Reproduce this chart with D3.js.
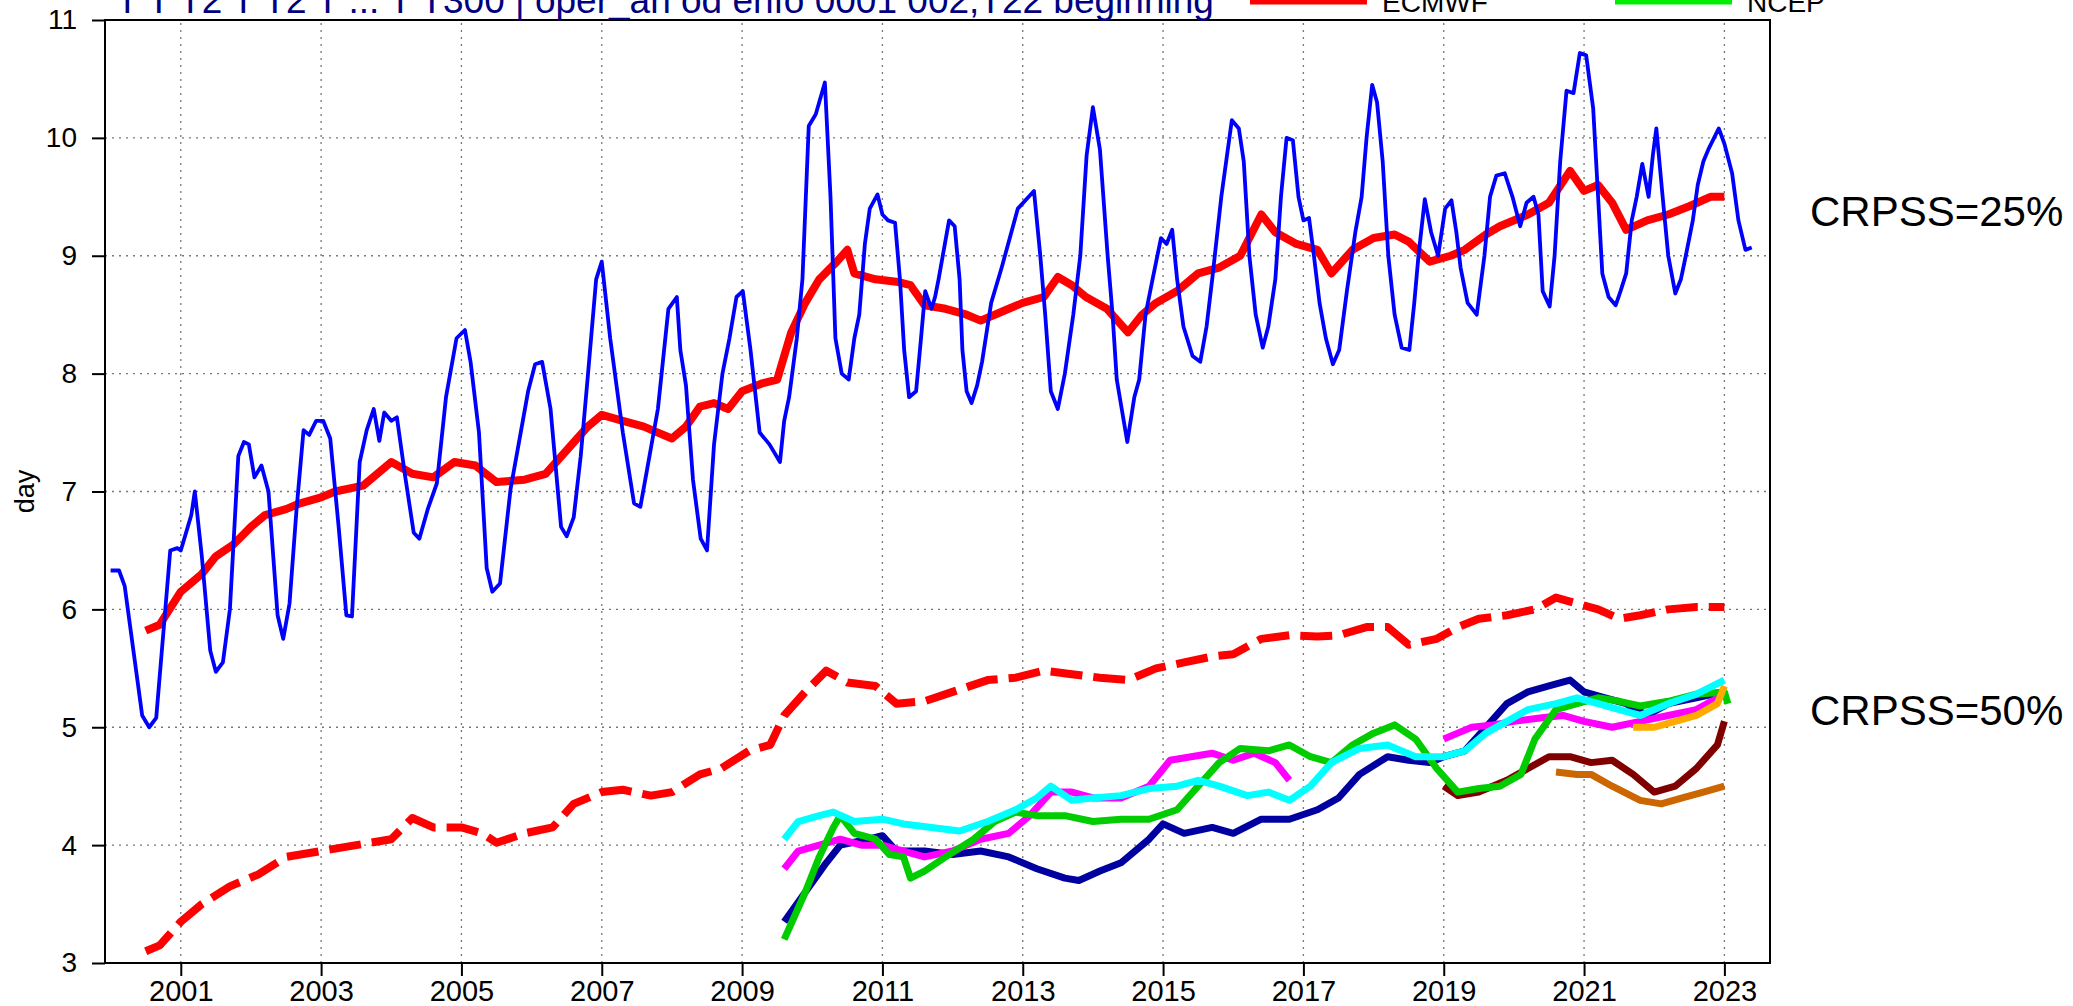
<!DOCTYPE html>
<html>
<head>
<meta charset="utf-8">
<script src="https://cdn.jsdelivr.net/npm/d3@7"></script>
<style>
  body { margin: 0; background: #fff; }
  svg { display: block; font-family: "Liberation Sans", Arial, sans-serif; }
</style>
</head>
<body>
<div id="chart"></div>
<script>
// year ticks and y ticks
var yearTicks = [2001, 2003, 2005, 2007, 2009, 2011, 2013, 2015, 2017, 2019, 2021, 2023];
var dayTicks = [3, 4, 5, 6, 7, 8, 9, 10, 11];

// monthly scores (blue)
var monthly = [
  [2000.0,6.33],[2000.12,6.33],[2000.2,6.2],[2000.45,5.1],[2000.55,5.0],[2000.65,5.08],[2000.85,6.5],[2000.95,6.52],
  [2001.0,6.5],[2001.1,6.7],[2001.15,6.8],[2001.2,7.0],[2001.3,6.45],[2001.42,5.65],[2001.5,5.47],[2001.6,5.55],
  [2001.7,6.0],[2001.82,7.3],[2001.9,7.42],[2001.97,7.4],[2002.05,7.12],[2002.15,7.22],[2002.25,7.0],[2002.38,5.95],
  [2002.46,5.75],[2002.55,6.05],[2002.65,6.85],[2002.75,7.52],[2002.83,7.48],[2002.93,7.6],[2003.03,7.6],[2003.13,7.45],
  [2003.25,6.7],[2003.36,5.95],[2003.44,5.94],[2003.55,7.25],[2003.65,7.52],[2003.75,7.7],[2003.83,7.43],[2003.9,7.67],
  [2004.0,7.6],[2004.08,7.63],[2004.2,7.12],[2004.32,6.65],[2004.4,6.6],[2004.52,6.85],[2004.65,7.07],[2004.78,7.8],
  [2004.93,8.3],[2005.05,8.37],[2005.13,8.1],[2005.25,7.5],[2005.36,6.35],[2005.44,6.15],[2005.55,6.22],[2005.7,7.02],
  [2005.83,7.45],[2005.95,7.85],[2006.05,8.08],[2006.15,8.1],[2006.27,7.7],[2006.42,6.7],[2006.5,6.62],[2006.6,6.78],
  [2006.7,7.3],[2006.8,7.97],[2006.92,8.8],[2007.0,8.95],[2007.12,8.3],[2007.3,7.5],[2007.46,6.9],[2007.55,6.87],
  [2007.65,7.2],[2007.8,7.7],[2007.95,8.55],[2008.07,8.65],[2008.12,8.2],[2008.2,7.9],[2008.3,7.1],[2008.41,6.6],
  [2008.5,6.5],[2008.6,7.4],[2008.72,8.0],[2008.82,8.3],[2008.92,8.65],[2009.01,8.7],[2009.12,8.2],[2009.25,7.5],
  [2009.39,7.4],[2009.54,7.25],[2009.6,7.6],[2009.67,7.8],[2009.78,8.3],[2009.86,8.8],[2009.95,10.1],[2010.05,10.2],
  [2010.18,10.47],[2010.26,9.5],[2010.33,8.3],[2010.42,8.0],[2010.52,7.95],[2010.6,8.3],[2010.67,8.5],[2010.75,9.1],
  [2010.82,9.4],[2010.93,9.52],[2011.0,9.35],[2011.08,9.3],[2011.18,9.28],[2011.25,8.8],[2011.31,8.2],[2011.38,7.8],
  [2011.48,7.85],[2011.55,8.3],[2011.61,8.7],[2011.7,8.55],[2011.75,8.65],[2011.8,8.8],[2011.95,9.3],[2012.03,9.25],
  [2012.1,8.8],[2012.14,8.2],[2012.2,7.85],[2012.27,7.75],[2012.35,7.9],[2012.42,8.1],[2012.55,8.6],[2012.7,8.9],
  [2012.93,9.4],[2013.16,9.55],[2013.25,9.0],[2013.32,8.5],[2013.4,7.85],[2013.5,7.7],[2013.6,8.0],[2013.72,8.5],
  [2013.82,9.0],[2013.91,9.85],[2014.0,10.26],[2014.1,9.9],[2014.21,9.0],[2014.28,8.5],[2014.34,7.95],[2014.49,7.42],
  [2014.59,7.8],[2014.66,7.95],[2014.75,8.5],[2014.85,8.8],[2014.97,9.15],[2015.05,9.1],[2015.13,9.22],[2015.2,8.8],
  [2015.29,8.4],[2015.42,8.15],[2015.53,8.1],[2015.62,8.4],[2015.7,8.8],[2015.83,9.5],[2015.98,10.15],[2016.08,10.08],
  [2016.15,9.8],[2016.23,9.0],[2016.32,8.5],[2016.42,8.22],[2016.5,8.4],[2016.6,8.8],[2016.68,9.5],[2016.76,10.0],
  [2016.85,9.98],[2016.93,9.5],[2017.0,9.3],[2017.08,9.32],[2017.15,9.0],[2017.23,8.6],[2017.32,8.3],[2017.42,8.08],
  [2017.51,8.2],[2017.62,8.7],[2017.74,9.2],[2017.83,9.5],[2017.9,10.0],[2017.98,10.45],[2018.05,10.3],[2018.13,9.8],
  [2018.21,9.0],[2018.3,8.5],[2018.4,8.22],[2018.51,8.2],[2018.58,8.6],[2018.64,9.0],[2018.73,9.48],[2018.82,9.2],
  [2018.92,9.0],[2019.02,9.4],[2019.11,9.47],[2019.18,9.2],[2019.24,8.9],[2019.34,8.6],[2019.47,8.5],[2019.58,9.0],
  [2019.66,9.5],[2019.75,9.68],[2019.87,9.7],[2019.98,9.5],[2020.09,9.25],[2020.18,9.45],[2020.28,9.5],[2020.35,9.35],
  [2020.41,8.7],[2020.51,8.57],[2020.58,9.0],[2020.66,9.8],[2020.75,10.4],[2020.85,10.38],[2020.94,10.72],[2021.03,10.7],
  [2021.13,10.25],[2021.2,9.5],[2021.26,8.85],[2021.35,8.65],[2021.45,8.58],[2021.52,8.7],[2021.6,8.85],[2021.68,9.3],
  [2021.75,9.5],[2021.83,9.78],[2021.92,9.5],[2021.98,9.85],[2022.03,10.08],[2022.12,9.5],[2022.2,9.0],[2022.3,8.68],
  [2022.38,8.8],[2022.45,9.0],[2022.55,9.3],[2022.62,9.6],[2022.7,9.8],[2022.77,9.9],[2022.92,10.08],[2023.0,9.95],
  [2023.11,9.7],[2023.2,9.3],[2023.3,9.05],[2023.39,9.07]
];

// 12-month running mean, CRPSS=25% (red solid)
var ecmwf25 = [
  [2000.5,5.82],[2000.7,5.87],[2001.0,6.15],[2001.3,6.3],[2001.5,6.45],[2001.75,6.55],[2002.0,6.7],[2002.2,6.8],
  [2002.5,6.85],[2002.7,6.9],[2003.0,6.95],[2003.2,7.0],[2003.6,7.05],[2004.0,7.25],[2004.3,7.15],[2004.6,7.12],
  [2004.9,7.25],[2005.2,7.22],[2005.5,7.08],[2005.9,7.1],[2006.2,7.15],[2006.5,7.35],[2006.8,7.55],[2007.0,7.65],
  [2007.3,7.6],[2007.6,7.55],[2007.8,7.5],[2008.0,7.45],[2008.2,7.55],[2008.4,7.72],[2008.6,7.75],[2008.8,7.7],
  [2009.0,7.85],[2009.3,7.92],[2009.5,7.95],[2009.7,8.35],[2009.9,8.6],[2010.1,8.8],[2010.35,8.95],[2010.5,9.05],
  [2010.6,8.85],[2010.9,8.8],[2011.2,8.78],[2011.4,8.75],[2011.6,8.58],[2011.9,8.55],[2012.2,8.5],[2012.4,8.45],
  [2012.6,8.5],[2012.8,8.55],[2013.0,8.6],[2013.3,8.65],[2013.5,8.82],[2013.7,8.75],[2013.9,8.65],[2014.2,8.55],
  [2014.5,8.35],[2014.7,8.5],[2014.9,8.6],[2015.2,8.7],[2015.5,8.85],[2015.8,8.9],[2016.1,9.0],[2016.4,9.35],
  [2016.6,9.2],[2016.9,9.1],[2017.2,9.05],[2017.4,8.85],[2017.7,9.05],[2018.0,9.15],[2018.3,9.18],[2018.5,9.12],
  [2018.8,8.95],[2019.1,9.0],[2019.3,9.05],[2019.6,9.18],[2019.8,9.25],[2020.2,9.35],[2020.5,9.45],[2020.8,9.72],
  [2021.0,9.55],[2021.2,9.6],[2021.4,9.45],[2021.6,9.22],[2021.9,9.3],[2022.2,9.35],[2022.5,9.42],[2022.8,9.5],[2023.0,9.5]
];

// 12-month running mean, CRPSS=50% (red dashed)
var ecmwf50 = [
  [2000.5,3.1],[2000.7,3.15],[2001.0,3.35],[2001.3,3.5],[2001.7,3.65],[2002.1,3.75],[2002.5,3.9],[2003.0,3.95],
  [2003.5,4.0],[2004.0,4.05],[2004.3,4.23],[2004.6,4.15],[2005.0,4.15],[2005.3,4.1],[2005.5,4.02],[2005.9,4.1],
  [2006.3,4.15],[2006.6,4.35],[2007.0,4.45],[2007.3,4.47],[2007.7,4.42],[2008.0,4.45],[2008.4,4.6],[2008.7,4.65],
  [2009.1,4.8],[2009.4,4.85],[2009.6,5.1],[2009.9,5.3],[2010.2,5.48],[2010.5,5.38],[2010.9,5.35],[2011.2,5.2],
  [2011.6,5.22],[2012.0,5.3],[2012.5,5.4],[2012.9,5.42],[2013.3,5.48],[2013.7,5.45],[2014.1,5.42],[2014.5,5.4],
  [2014.9,5.5],[2015.3,5.55],[2015.7,5.6],[2016.0,5.62],[2016.4,5.75],[2016.8,5.78],[2017.2,5.77],[2017.5,5.78],
  [2017.9,5.85],[2018.2,5.85],[2018.5,5.7],[2018.9,5.75],[2019.2,5.85],[2019.5,5.92],[2019.9,5.95],[2020.3,6.0],
  [2020.6,6.1],[2020.9,6.05],[2021.2,6.0],[2021.5,5.92],[2021.8,5.95],[2022.2,6.0],[2022.6,6.02],[2023.0,6.02]
];

var navy50 = [
  [2009.6,3.35],[2009.9,3.6],[2010.2,3.85],[2010.4,4.0],[2010.8,4.05],[2011.0,4.08],[2011.2,3.95],[2011.6,3.95],
  [2012.0,3.92],[2012.4,3.95],[2012.8,3.9],[2013.2,3.8],[2013.6,3.72],[2013.8,3.7],[2014.1,3.78],[2014.4,3.85],
  [2014.8,4.05],[2015.0,4.18],[2015.3,4.1],[2015.7,4.15],[2016.0,4.1],[2016.4,4.22],[2016.8,4.22],[2017.2,4.3],
  [2017.5,4.4],[2017.8,4.6],[2018.2,4.75],[2018.5,4.72],[2018.8,4.7],[2019.0,4.75],[2019.3,4.8],[2019.6,5.0],
  [2019.9,5.2],[2020.2,5.3],[2020.5,5.35],[2020.8,5.4],[2021.0,5.3],[2021.3,5.25],[2021.6,5.2],[2021.9,5.1],
  [2022.2,5.2],[2022.6,5.25],[2023.0,5.3]
];
var cyan50 = [
  [2009.6,4.05],[2009.8,4.2],[2010.1,4.25],[2010.3,4.28],[2010.6,4.2],[2011.0,4.22],[2011.3,4.18],[2011.7,4.15],
  [2012.1,4.12],[2012.5,4.2],[2012.9,4.3],[2013.2,4.4],[2013.4,4.5],[2013.7,4.38],[2014.0,4.4],[2014.4,4.42],
  [2014.8,4.48],[2015.2,4.5],[2015.5,4.55],[2015.8,4.5],[2016.2,4.42],[2016.5,4.45],[2016.8,4.38],[2017.1,4.5],
  [2017.4,4.7],[2017.8,4.82],[2018.2,4.85],[2018.6,4.75],[2019.0,4.75],[2019.3,4.8],[2019.6,4.95],[2019.9,5.05],
  [2020.2,5.15],[2020.6,5.2],[2020.9,5.25],[2021.2,5.2],[2021.5,5.15],[2021.8,5.1],[2022.2,5.2],[2022.6,5.28],[2023.0,5.4]
];
var green50 = [
  [2009.6,3.2],[2009.9,3.6],[2010.1,3.9],[2010.3,4.15],[2010.4,4.25],[2010.6,4.1],[2010.9,4.05],[2011.1,3.92],
  [2011.3,3.9],[2011.4,3.72],[2011.6,3.78],[2011.9,3.9],[2012.3,4.05],[2012.6,4.2],[2012.9,4.28],[2013.2,4.25],
  [2013.6,4.25],[2014.0,4.2],[2014.4,4.22],[2014.8,4.22],[2015.2,4.3],[2015.5,4.5],[2015.8,4.7],[2016.1,4.82],
  [2016.5,4.8],[2016.8,4.85],[2017.1,4.75],[2017.4,4.7],[2017.7,4.85],[2018.0,4.95],[2018.3,5.02],[2018.6,4.9],
  [2018.9,4.65],[2019.2,4.45],[2019.5,4.48],[2019.8,4.5],[2020.1,4.6],[2020.3,4.9],[2020.6,5.15],[2020.9,5.2],
  [2021.2,5.25],[2021.5,5.22],[2021.8,5.18],[2022.2,5.22],[2022.6,5.28],[2023.0,5.3],[2023.05,5.2]
];
var magentaA = [
  [2009.6,3.8],[2009.8,3.95],[2010.1,4.0],[2010.4,4.05],[2010.7,4.0],[2011.0,4.0],[2011.3,3.95],[2011.6,3.9],
  [2012.0,3.95],[2012.4,4.05],[2012.8,4.1],[2013.1,4.25],[2013.4,4.45],[2013.7,4.45],[2014.0,4.4],[2014.4,4.4],
  [2014.8,4.5],[2015.1,4.72],[2015.4,4.75],[2015.7,4.78],[2016.0,4.72],[2016.3,4.78],[2016.6,4.7],[2016.8,4.55]
];
var magentaB = [
  [2019.0,4.9],[2019.2,4.95],[2019.4,5.0],[2019.7,5.02],[2020.0,5.05],[2020.4,5.08],[2020.7,5.1],[2021.0,5.05],
  [2021.4,5.0],[2021.8,5.05],[2022.2,5.1],[2022.6,5.15],[2023.0,5.28]
];
var maroon50 = [
  [2019.0,4.5],[2019.2,4.42],[2019.5,4.45],[2019.9,4.55],[2020.2,4.65],[2020.5,4.75],[2020.8,4.75],[2021.1,4.7],
  [2021.4,4.72],[2021.7,4.6],[2022.0,4.45],[2022.3,4.5],[2022.6,4.65],[2022.9,4.85],[2023.0,5.05]
];
var brown50 = [
  [2020.6,4.62],[2020.9,4.6],[2021.1,4.6],[2021.4,4.5],[2021.8,4.38],[2022.1,4.35],[2022.4,4.4],[2022.7,4.45],[2023.0,4.5]
];
var orange50 = [
  [2021.7,5.0],[2022.0,5.0],[2022.3,5.05],[2022.6,5.1],[2022.9,5.2],[2023.0,5.35]
];

var W = 2073, H = 1006;
var margin = {left: 105, right: 303, top: 20, bottom: 43};

var svg = d3.select('#chart').append('svg')
  .attr('width', W)
  .attr('height', H);

var x = d3.scaleLinear()
  .domain([1999.92, 2023.65])
  .range([margin.left, W - margin.right]);
var y = d3.scaleLinear()
  .domain([3, 11])
  .range([H - margin.bottom, margin.top]);

// grid
var grid = svg.append('g').attr('class', 'grid');
grid.selectAll('line.h')
  .data(dayTicks.slice(1, -1))
  .enter().append('line')
  .attr('x1', x.range()[0]).attr('x2', x.range()[1])
  .attr('y1', function(d) { return y(d); })
  .attr('y2', function(d) { return y(d); })
  .style('stroke', '#777')
  .style('stroke-width', 1.3)
  .style('stroke-dasharray', '2,5');
grid.selectAll('line.v')
  .data(yearTicks)
  .enter().append('line')
  .attr('y1', y.range()[0]).attr('y2', y.range()[1])
  .attr('x1', function(d) { return x(d); })
  .attr('x2', function(d) { return x(d); })
  .style('stroke', '#777')
  .style('stroke-width', 1.3)
  .style('stroke-dasharray', '2,5');

// axes
var xAxis = d3.axisBottom(x)
  .tickValues(yearTicks)
  .tickFormat(d3.format('d'))
  .tickSize(13)
  .tickSizeOuter(0);
var yAxis = d3.axisLeft(y)
  .tickValues(dayTicks)
  .tickFormat(d3.format('d'))
  .tickSize(13)
  .tickSizeOuter(0);

var gx = svg.append('g')
  .attr('transform', 'translate(0,' + y.range()[0] + ')')
  .call(xAxis);
gx.select('.domain').remove();
gx.selectAll('line').style('stroke', '#000').style('stroke-width', 2);
gx.selectAll('text')
  .attr('dy', '0.95em')
  .attr('y', 10)
  .style('font-size', '29px')
  .style('fill', '#000');

var gy = svg.append('g')
  .attr('transform', 'translate(' + x.range()[0] + ',0)')
  .call(yAxis);
gy.select('.domain').remove();
gy.selectAll('line').style('stroke', '#000').style('stroke-width', 2);
gy.selectAll('text')
  .attr('x', -28)
  .style('font-size', '28px')
  .style('fill', '#000');

// frame
svg.append('rect')
  .attr('x', x.range()[0]).attr('y', y.range()[1])
  .attr('width', x.range()[1] - x.range()[0])
  .attr('height', y.range()[0] - y.range()[1])
  .style('fill', 'none')
  .style('stroke', '#000')
  .style('stroke-width', 2);

svg.append('text')
  .attr('transform', 'translate(34,' + y(7) + ') rotate(-90)')
  .attr('text-anchor', 'middle')
  .style('font-size', '27px')
  .text('day');

// lines
var line = d3.line()
  .x(function(d) { return x(d[0]); })
  .y(function(d) { return y(d[1]); });

var plot = svg.append('g');
function draw(data, color, width, dash) {
  plot.append('path')
    .datum(data)
    .attr('d', line)
    .style('fill', 'none')
    .style('stroke', color)
    .style('stroke-width', width)
    .style('stroke-linejoin', 'round')
    .style('stroke-dasharray', dash || null);
}

draw(ecmwf50, '#ff0000', 8, '32,11');
draw(maroon50, '#800000', 7);
draw(brown50, '#cc6600', 7);
draw(navy50, '#0000a0', 7);
draw(magentaA, '#ff00ff', 7);
draw(magentaB, '#ff00ff', 7);
draw(green50, '#00cc00', 7);
draw(cyan50, '#00ffff', 7);
draw(orange50, '#ffaa00', 7);
draw(ecmwf25, '#ff0000', 8);
draw(monthly, '#0000ff', 3.8);

// labels on right
svg.append('text')
  .attr('x', 1810).attr('y', 226)
  .style('font-size', '42px')
  .text('CRPSS=25%');
svg.append('text')
  .attr('x', 1810).attr('y', 725)
  .style('font-size', '42px')
  .text('CRPSS=50%');

// title (cut at top)
svg.append('text')
  .attr('x', 116).attr('y', 13)
  .style('font-size', '37px')
  .style('fill', '#000080')
  .text('T T T2 T T2 T ... T T300 | oper_an od enfo 0001 002,T22 beginning');

// legend (cut at top)
var legend = [
  {name: 'ECMWF', color: '#ff0000', x0: 1250},
  {name: 'NCEP', color: '#00ee00', x0: 1615}
];
var lg = svg.append('g');
lg.selectAll('line')
  .data(legend)
  .enter().append('line')
  .attr('x1', function(d) { return d.x0; })
  .attr('x2', function(d) { return d.x0 + 117; })
  .attr('y1', 0).attr('y2', 0)
  .style('stroke', function(d) { return d.color; })
  .style('stroke-width', 9);
lg.selectAll('text')
  .data(legend)
  .enter().append('text')
  .attr('x', function(d) { return d.x0 + 132; })
  .attr('y', 12)
  .style('font-size', '28px')
  .text(function(d) { return d.name; });
</script>
</body>
</html>
